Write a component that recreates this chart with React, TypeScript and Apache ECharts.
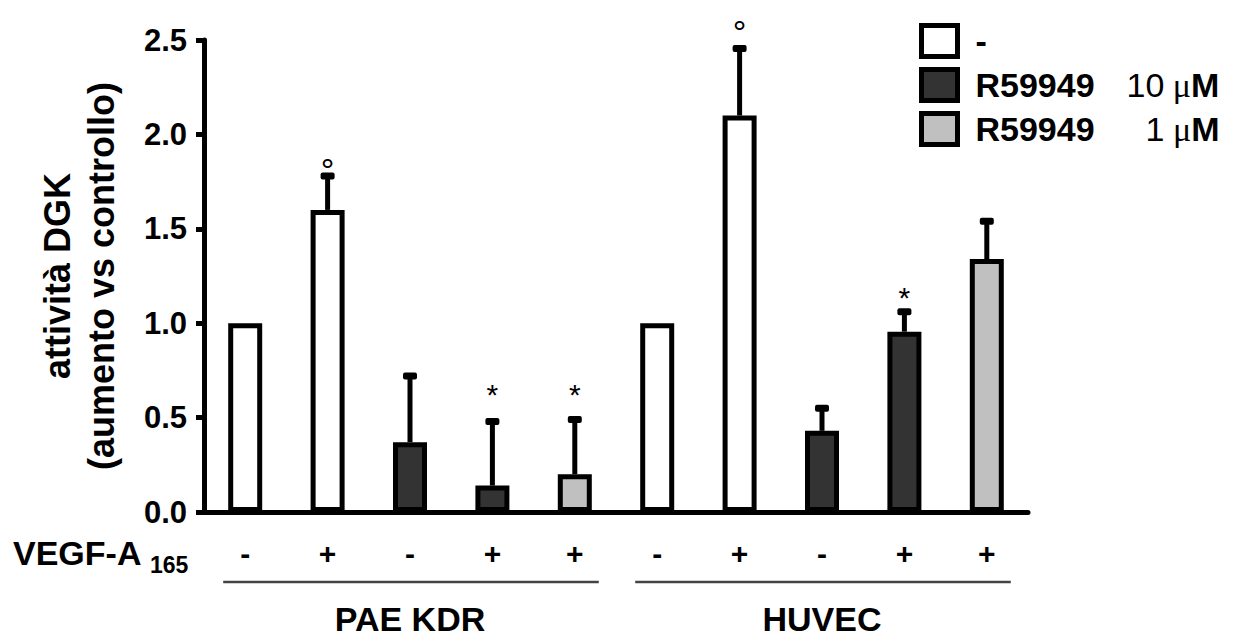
import React, { useEffect, useRef } from "react";
import * as echarts from "echarts";

// ---- data ----
const categories = ["P1", "P2", "P3", "P4", "P5", "H1", "H2", "H3", "H4", "H5"];
const vegfSigns = ["-", "+", "-", "+", "+", "-", "+", "-", "+", "+"];
const groupNames = ["PAE KDR", "HUVEC"];
const groupRanges = [[0, 4], [5, 9]];
const seriesNames = ["-", "R59949 10 μM", "R59949 1 μM"];
const legendDrug = ["-", "R59949", "R59949"];
const legendConc = ["", "10", "1"];
const seriesColors = ["#ffffff", "#333333", "#c0c0c0"];
const treatment = [0, 0, 1, 1, 2, 0, 0, 1, 1, 2];
const means = [1.0, 1.6, 0.37, 0.14, 0.2, 1.0, 2.1, 0.43, 0.955, 1.34];
const errors = [0, 0.18, 0.35, 0.34, 0.29, 0, 0.355, 0.12, 0.105, 0.2];
const marks = ["", "°", "", "*", "*", "", "°", "", "*", ""];
const markValues = [0, 1.81, 0, 0.62, 0.625, 0, 2.54, 0, 1.135, 0];
const yTicks = [0, 0.5, 1.0, 1.5, 2.0, 2.5];

const FONT = '"Liberation Sans", Arial, Helvetica, sans-serif';
const SERIF = '"Liberation Serif", "DejaVu Serif", serif';

export default function App() {
  const ref = useRef<HTMLDivElement>(null);

  useEffect(() => {
    document.body.style.margin = "0";
    if (!ref.current) return;
    const chart = echarts.init(ref.current, undefined, { renderer: "svg" });

    const barSeries = seriesNames.map((name, s) => ({
      name,
      type: "bar",
      xAxisIndex: 0,
      yAxisIndex: 0,
      barWidth: 34,
      barGap: "-100%",
      z: 3,
      itemStyle: { color: seriesColors[s], borderColor: "#000", borderWidth: 5 },
      data: means.map((m, i) => (treatment[i] === s ? m : "-")),
    }));

    const errSeries = {
      type: "custom",
      xAxisIndex: 0,
      yAxisIndex: 0,
      z: 2,
      clip: false,
      silent: true,
      encode: { x: 0, y: 2 },
      data: means.map((m, i) => [i, m, m + errors[i], markValues[i]]),
      renderItem: (params: any, api: any) => {
        const i = params.dataIndex;
        const children: any[] = [];
        const base = api.coord([api.value(0), api.value(1)]);
        const top = api.coord([api.value(0), api.value(2)]);
        if (errors[i] > 0) {
          children.push({
            type: "line",
            shape: { x1: base[0], y1: base[1], x2: top[0], y2: top[1] },
            style: { stroke: "#000", lineWidth: 5 },
          });
          children.push({
            type: "rect",
            shape: { x: top[0] - 7, y: top[1] - 3.5, width: 14, height: 7, r: 2 },
            style: { fill: "#000" },
          });
        }
        if (marks[i]) {
          const mp = api.coord([api.value(0), api.value(3)]);
          children.push({
            type: "text",
            x: mp[0],
            y: mp[1],
            style: {
              text: marks[i],
              fill: "#000",
              fontSize: marks[i] === "*" ? 30 : 34,
              fontFamily: FONT,
              align: "center",
              verticalAlign: "middle",
            },
          });
        }
        return { type: "group", children };
      },
    };

    chart.setOption({
      animation: false,
      backgroundColor: "#ffffff",
      grid: { left: 204, right: 207, top: 40, bottom: 130, containLabel: false },
      legend: {
        orient: "vertical",
        left: 914,
        top: 18,
        icon: "rect",
        itemWidth: 36,
        itemHeight: 31,
        itemGap: 8,
        selectedMode: false,
        data: seriesNames.map((name, s) => ({
          name,
          icon: "rect",
          itemStyle: { color: seriesColors[s], borderColor: "#000", borderWidth: 5 },
        })),
        formatter: (name: string) => {
          const s = seriesNames.indexOf(name);
          if (!legendConc[s]) return `{a|${legendDrug[s]}}`;
          const numStyle = legendConc[s].length > 1 ? "b" : "c";
          return `{a|${legendDrug[s]}}{${numStyle}|${legendConc[s]}}{u| μ}{m|M}`;
        },
        textStyle: {
          color: "#000",
          fontFamily: FONT,
          fontSize: 34,
          lineHeight: 36,
          rich: {
            a: { fontSize: 34, fontWeight: "bold", fontFamily: FONT, color: "#000", width: 151, padding: [0, 0, 0, 13] },
            b: { fontSize: 34, fontWeight: "normal", fontFamily: FONT, color: "#000" },
            c: { fontSize: 34, fontWeight: "normal", fontFamily: FONT, color: "#000", padding: [0, 0, 0, 19] },
            u: { fontSize: 34, fontWeight: "normal", fontFamily: SERIF, color: "#000" },
            m: { fontSize: 34, fontWeight: "bold", fontFamily: FONT, color: "#000" },
          },
        },
      },
      xAxis: [
        {
          type: "category",
          data: categories,
          axisLine: { lineStyle: { color: "#000", width: 5 } },
          axisTick: { show: false },
          axisLabel: {
            interval: 0,
            margin: 26,
            color: "#000",
            fontSize: 30,
            fontWeight: "bold",
            fontFamily: FONT,
            formatter: (_v: string, idx: number) => vegfSigns[idx],
          },
          splitLine: { show: false },
        },
        {
          type: "category",
          data: groupNames,
          position: "bottom",
          offset: 82,
          axisLine: { show: false },
          axisTick: { show: false },
          axisLabel: {
            interval: 0,
            margin: 8,
            color: "#000",
            fontSize: 34,
            fontWeight: "bold",
            fontFamily: FONT,
          },
          splitLine: { show: false },
        },
      ],
      yAxis: {
        type: "value",
        min: yTicks[0],
        max: yTicks[yTicks.length - 1],
        interval: 0.5,
        name: "attività DGK\n(aumento vs controllo)",
        nameLocation: "middle",
        nameRotate: 90,
        nameGap: 81,
        nameTextStyle: {
          color: "#000",
          fontSize: 36,
          fontWeight: "bold",
          fontFamily: FONT,
          lineHeight: 44,
        },
        axisLine: { show: true, lineStyle: { color: "#000", width: 5 } },
        axisTick: { show: true, length: 8, lineStyle: { color: "#000", width: 5 } },
        axisLabel: {
          margin: 17,
          color: "#000",
          fontSize: 31,
          fontWeight: "bold",
          fontFamily: FONT,
          formatter: (v: number) => v.toFixed(1),
        },
        splitLine: { show: false },
      },
      series: [...barSeries, errSeries],
    });

    // group underlines and VEGF label, placed from the category scale
    const zeroY = chart.convertToPixel({ yAxisIndex: 0 }, 0) as number;
    const lineY = zeroY + 70;
    const lines = groupRanges.map(([a, b]) => {
      const xa = chart.convertToPixel({ xAxisIndex: 0 }, a) as number;
      const xb = chart.convertToPixel({ xAxisIndex: 0 }, b) as number;
      return {
        type: "line",
        shape: { x1: xa - 22, y1: lineY, x2: xb + 24, y2: lineY },
        style: { stroke: "#444", lineWidth: 2.5 },
      };
    });
    chart.setOption({
      graphic: [
        ...lines,
        {
          type: "text",
          left: 13,
          top: zeroY + 24,
          style: { text: "VEGF-A", fill: "#000", fontSize: 34, fontWeight: "bold", fontFamily: FONT },
        },
        {
          type: "text",
          left: 150,
          top: zeroY + 41,
          style: { text: "165", fill: "#000", fontSize: 23, fontWeight: "bold", fontFamily: FONT },
        },
      ],
    });

    return () => chart.dispose();
  }, []);

  return <div ref={ref} style={{ width: 1235, height: 642 }} />;
}
